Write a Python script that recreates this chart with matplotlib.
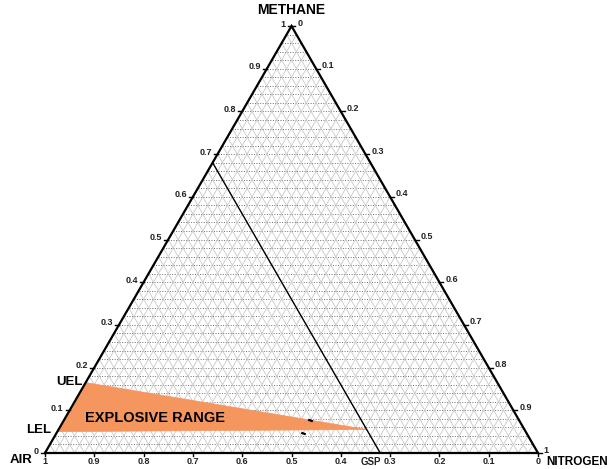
import numpy as np
import matplotlib
matplotlib.use("Agg")
import matplotlib.pyplot as plt
from matplotlib.patches import Polygon

plt.rcParams['font.family'] = ['Liberation Sans', 'DejaVu Sans']

# Ternary data: (air, nitrogen, methane) fractions
tick_values = [0.0, 0.1, 0.2, 0.3, 0.4, 0.5, 0.6, 0.7, 0.8, 0.9, 1.0]
tick_labels = ["0", "0.1", "0.2", "0.3", "0.4", "0.5", "0.6", "0.7", "0.8", "0.9", "1"]

lel_methane = 0.05
uel_methane = 0.165
nose_methane = 0.055
nose_air = 0.32
gsp_air = 0.32          # constant-air line through the nose
gsp_label_air = 0.34

marker_air = [0.424, 0.453]
marker_methane = [0.077, 0.047]

grid_step = 0.02
S3 = np.sqrt(3) / 2


def tern(air, n2, ch4):
    """Convert a ternary composition to cartesian (air bottom-left, N2 bottom-right, CH4 top)."""
    n2 = np.asarray(n2, float); ch4 = np.asarray(ch4, float)
    return n2 + 0.5 * ch4, S3 * ch4


fig = plt.figure(figsize=(6.11, 4.69), dpi=100)
ax = fig.add_axes([0, 0, 1, 1])
ax.set_xlim(-45 / 493, (611 - 45) / 493)
ax.set_ylim((453 - 469) / 493, 453 / 493)
ax.axis('off')

# Grid: horizontal (constant methane) dotted, diagonals light grey
levels = np.arange(grid_step, 1.0, grid_step)
for c in levels:
    x0, y0 = tern(1 - c, 0, c)
    x1, y1 = tern(0, 1 - c, c)
    ax.plot([x0, x1], [y0, y1], color='#6e6e6e', lw=0.7, ls=(0, (1, 1.6)), zorder=1)
for a in levels:
    # constant air
    x0, y0 = tern(a, 1 - a, 0)
    x1, y1 = tern(a, 0, 1 - a)
    ax.plot([x0, x1], [y0, y1], color='#c8c8c8', lw=0.6, zorder=1)
    # constant nitrogen
    x0, y0 = tern(1 - a, a, 0)
    x1, y1 = tern(0, a, 1 - a)
    ax.plot([x0, x1], [y0, y1], color='#c8c8c8', lw=0.6, zorder=1)

# Explosive range
pts = [tern(1 - lel_methane, 0, lel_methane),
       tern(1 - uel_methane, 0, uel_methane),
       tern(nose_air, 1 - nose_air - nose_methane, nose_methane)]
ax.add_patch(Polygon(pts, closed=True, facecolor='#F6965F', edgecolor='#F6965F', lw=0.5, zorder=2))

# Constant-air line through the nose
x0, y0 = tern(gsp_air, 0, 1 - gsp_air)
x1, y1 = tern(gsp_air, 1 - gsp_air, 0)
ax.plot([x0, x1], [y0, y1], color='black', lw=1.0, zorder=3)

# Measured points on the boundary
ma = np.array(marker_air); mc = np.array(marker_methane)
mx, my = tern(ma, 1 - ma - mc, mc)
ax.plot(mx, my, ls='none', marker=(2, 0, 70), ms=3.5, mec='black', mew=1.6, zorder=4)

# Triangle outline
tri = [tern(1, 0, 0), tern(0, 1, 0), tern(0, 0, 1), tern(1, 0, 0)]
ax.plot([p[0] for p in tri], [p[1] for p in tri], color='black', lw=1.6, zorder=5,
        solid_joinstyle='miter')

tick_len = 0.008
fs = 6.5
for v, lab in zip(tick_values, tick_labels):
    # left edge: methane
    x, y = tern(1 - v, 0, v)
    ax.plot([x - tick_len, x], [y, y], color='black', lw=1.0, zorder=5)
    ax.text(x - tick_len - 0.004, y + 0.004, lab, ha='right', va='center', fontsize=fs,
            fontweight='bold', color='#222222')
    # right edge: nitrogen (0 at top, 1 at bottom)
    x, y = tern(0, v, 1 - v)
    ax.plot([x, x + tick_len], [y, y], color='black', lw=1.0, zorder=5)
    ax.text(x + tick_len + 0.004, y + 0.006, lab, ha='left', va='center', fontsize=fs,
            fontweight='bold', color='#222222')
    # bottom edge: air (1 at left, 0 at right)
    x, y = tern(v, 1 - v, 0)
    ax.plot([x, x], [y, y - 0.006], color='black', lw=1.0, zorder=5)
    ax.text(x, y - 0.009, lab, ha='center', va='top', fontsize=fs,
            fontweight='bold', color='#222222')

# GSP label on the air axis
gx, gy = tern(gsp_label_air, 1 - gsp_label_air, 0)
ax.text(gx, gy - 0.009, "GSP", ha='center', va='top', fontsize=7,
        fontweight='bold', color='#222222')

# Vertex labels
ax.text(0.5, S3 + 0.018, "METHANE", ha='center', va='bottom', fontsize=10,
        fontweight='bold')
ax.text(-0.026, -0.015, "AIR", ha='right', va='center', fontsize=9.5, fontweight='bold')
ax.text(1.016, -0.018, "NITROGEN", ha='left', va='center', fontsize=8.5, fontweight='bold')

# Limit labels
x, y = tern(1 - uel_methane, 0, uel_methane)
ax.text(x - 0.006, y + 0.002, "UEL", ha='right', va='center', fontsize=9.5, fontweight='bold')
x, y = tern(1 - lel_methane, 0, lel_methane)
ax.text(x - 0.012, y + 0.004, "LEL", ha='right', va='center', fontsize=9.5, fontweight='bold')

ax.text(0.224, (453 - 418) / 493, "EXPLOSIVE RANGE", ha='center', va='center',
        fontsize=10.5, fontweight='bold', color='black', zorder=6)

fig.savefig("out.png", dpi=100)
